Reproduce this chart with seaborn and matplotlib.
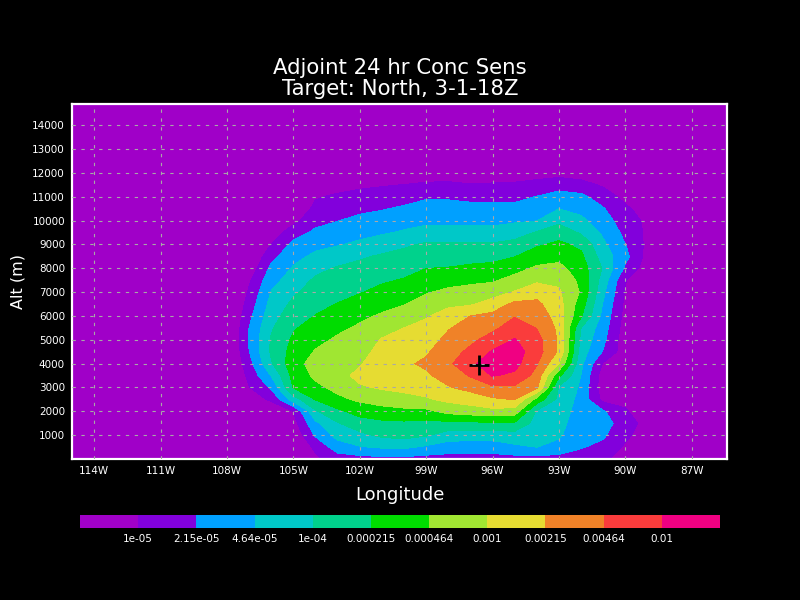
import numpy as np
import matplotlib
matplotlib.use("Agg")
import matplotlib.pyplot as plt
import seaborn as sns

# contour levels of the sensitivity and their labels
levels = [1e-05, 2.15e-05, 4.64e-05, 1e-04, 0.000215, 0.000464, 0.001, 0.00215, 0.00464, 0.01]
level_labels = ["1e-05", "2.15e-05", "4.64e-05", "1e-04", "0.000215",
                "0.000464", "0.001", "0.00215", "0.00464", "0.01"]
shade_colors = ["#a000c8", "#8200dc", "#00a0ff", "#00c8c8", "#00d28c", "#00dc00",
                "#a0e632", "#e6dc32", "#f08228", "#fa3c3c", "#f00082"]

lon_ticks = [-114, -111, -108, -105, -102, -99, -96, -93, -90, -87]
lon_labels = ["114W", "111W", "108W", "105W", "102W", "99W", "96W", "93W", "90W", "87W"]
alt_ticks = [1000, 2000, 3000, 4000, 5000, 6000, 7000, 8000, 9000, 10000, 11000, 12000, 13000, 14000]

target_lon = -96.6
target_alt = 3950

# grid of the field
lons = np.arange(-115, -84)          # 1 degree
alts = np.arange(0, 15001, 500)      # 500 m

# vertical profiles (0..13000 m every 500 m),
# in contour-interval units: 1 -> 1e-05, each unit a factor 2.15
p108w = [-1, -1, -1, -1, -1, -0.8, -0.6, -0.5, -0.4, -0.4, -0.4, -0.4, -0.4, -0.6, -0.8,
         -1, -1, -1, -1, -1, -1, -1, -1, -1, -1, -1, -1]
p107w = [-1, -0.8, -0.6, -0.3, 0.1, 0.6, 0.95, 1.28, 1.62, 1.97, 2.1, 2.0, 1.72, 1.43, 1.15,
         0.85, 0.3, -0.1, -0.5, -0.8, -1, -1, -1, -1, -1, -1, -1]
p106w = [-1, -0.8, -0.6, -0.2, 0.4, 1.13, 2.15, 3.04, 3.91, 4.14, 4.10, 3.89, 3.61, 3.33, 3.05,
         2.65, 2.23, 1.69, 1.01, 0.4, -0.2, -0.6, -1, -1, -1, -1, -1]
p105w = [-0.4, -0.1, 0.18, 0.6, 1.0, 3.52, 5.06, 5.33, 5.6, 5.38, 5.16, 4.9, 4.55, 4.21, 3.85,
         3.47, 3.10, 2.68, 2.26, 1.58, 0.70, 0.07, -0.5, -0.75, -1, -1, -1]
p104w = [0.8, 1.23, 2.13, 2.8, 3.88, 5.06, 5.75, 6.2, 6.39, 6.07, 5.73, 5.38, 5.03, 4.74, 4.44,
         4.15, 3.74, 3.22, 2.70, 2.18, 1.71, 1.28, 0.9, 0.2, -0.5, -1, -1]
p103w = [1.5, 2.51, 3.35, 3.94, 4.8, 5.77, 6.29, 6.67, 6.78, 6.46, 6.15, 5.8, 5.41, 5.03, 4.71,
         4.4, 4.09, 3.54, 2.93, 2.44, 1.97, 1.57, 1.17, 0.59, -0.1, -0.7, -1]
p102w = [1.6, 2.93, 3.76, 4.56, 5.38, 6.18, 6.89, 7.26, 6.91, 6.65, 6.4, 6.14, 5.8, 5.36, 4.94,
         4.61, 4.27, 3.88, 3.2, 2.69, 2.24, 1.79, 1.34, 0.8, 0.03, -0.6, -1]
p101w = [1.7, 3.12, 4.21, 4.78, 5.59, 6.49, 7.1, 7.35, 7.6, 7.33, 7.07, 6.62, 6.12, 5.69, 5.27,
         4.87, 4.5, 4.12, 3.52, 2.88, 2.41, 1.93, 1.44, 0.92, 0.17, -0.5, -1]
p100w = [1.7, 3.18, 4.35, 4.83, 5.73, 6.72, 7.22, 7.54, 7.85, 7.57, 7.28, 7.0, 6.47, 5.96, 5.51,
         5.07, 4.68, 4.3, 3.85, 3.12, 2.61, 2.15, 1.6, 1.02, 0.3, -0.37, -1]
p099w = [1.6, 2.84, 4.11, 4.75, 5.77, 6.89, 7.41, 7.86, 8.15, 7.89, 7.58, 7.26, 6.92, 6.41, 5.92,
         5.45, 4.99, 4.56, 4.13, 3.38, 2.76, 2.35, 1.89, 1.17, 0.41, -0.27, -1]
p098w = [1.6, 2.49, 3.53, 4.74, 6.32, 7.23, 7.93, 8.38, 8.8, 8.52, 8.24, 7.93, 7.38, 6.82, 6.22,
         5.62, 5.04, 4.58, 4.13, 3.37, 2.76, 2.34, 1.88, 1.2, 0.46, -0.23, -0.8]
p097w = [1.6, 2.47, 3.47, 4.79, 6.52, 7.46, 8.31, 9.09, 9.8, 9.25, 8.76, 8.38, 8.0, 6.89, 6.35,
         5.79, 5.19, 4.64, 4.1, 3.34, 2.74, 2.29, 1.75, 1.06, 0.29, -0.37, -0.85]
p096w = [1.6, 2.47, 3.45, 4.86, 6.72, 7.86, 8.81, 10.08, 10.5, 10.1, 9.44, 8.78, 8.25, 7.43, 6.57,
         5.88, 5.29, 4.69, 4.1, 3.33, 2.73, 2.26, 1.73, 1.12, 0.38, -0.3, -0.8]
p095w = [1.6, 2.82, 3.58, 4.86, 6.54, 8.03, 8.84, 9.8, 10.34, 10.45, 10.07, 9.52, 8.93, 8.23, 7.07,
         6.34, 5.66, 4.97, 4.3, 3.58, 2.86, 2.29, 1.72, 1.16, 0.44, -0.25, -0.75]
p094w = [1.6, 3.01, 3.29, 3.58, 3.86, 5.64, 8.19, 8.64, 9.08, 9.45, 9.36, 8.97, 8.59, 8.21, 7.62,
         6.82, 6.15, 5.51, 4.86, 4.08, 2.98, 2.5, 2.03, 1.33, 0.58, -0.13, -0.7]
p093w = [1.6, 2.67, 3.15, 3.35, 3.54, 3.73, 3.92, 5.2, 7.0, 7.85, 7.85, 7.77, 7.55, 7.34, 7.13,
         6.79, 6.26, 5.73, 5.21, 4.54, 3.77, 2.99, 2.38, 1.59, 0.64, -0.07, -0.7]
p092w = [1.6, 2.06, 2.21, 2.37, 2.52, 2.67, 2.83, 2.98, 3.23, 3.48, 3.74, 3.99, 5.11, 5.5, 5.89,
         5.75, 5.48, 5.2, 4.76, 3.88, 3.23, 2.7, 2.23, 1.38, 0.47, -0.22, -0.8]
p091w = [1.3, 1.76, 2.13, 2.4, 2.1, 0.7, 0.4, 0.45, 0.91, 1.92, 2.22, 2.45, 2.68, 2.91, 3.21,
         3.55, 3.9, 3.54, 3.19, 2.82, 2.45, 2.07, 1.51, 0.86, 0.11, -0.55, -1]
p090w = [0.3, 0.85, 1.22, 1.5, 1.09, 0.78, 0.5, 0.48, 0.45, 0.43, 0.4, 0.52, 0.64, 0.76, 0.89,
         1.05, 1.84, 2.3, 2.01, 1.73, 1.46, 1.18, 0.72, -0.01, -0.6, -1, -1]
p089w = [-0.2, 0.2, 0.45, 0.6, 0.45, 0.1, -0.3, -0.5, -0.5, -0.5, -0.5, -0.5, -0.5, -0.2, 0.1,
         0.3, 0.45, 0.65, 0.75, 0.8, 0.8, 0.55, -0.2, -0.7, -1, -1, -1]

profiles = {-108: p108w, -107: p107w, -106: p106w, -105: p105w, -104: p104w, -103: p103w,
            -102: p102w, -101: p101w, -100: p100w, -99: p099w, -98: p098w, -97: p097w,
            -96: p096w, -95: p095w, -94: p094w, -93: p093w, -92: p092w, -91: p091w,
            -90: p090w, -89: p089w}

field = np.full((len(alts), len(lons)), -1.0)
for lon, prof in profiles.items():
    field[:len(prof), lons == lon] = np.array(prof)[:, None]

sens = 1e-5 * 10 ** ((field - 1) / 3)

sns.set_style("dark")
plt.rcParams["font.family"] = ["DejaVu Sans"]

fig = plt.figure(figsize=(8, 6), dpi=100, facecolor="black")
ax = fig.add_axes([0.09, 0.235, 0.819, 0.592])
ax.set_facecolor(shade_colors[0])

bounds = np.log10([1e-9] + levels + [1.0])
ax.contourf(lons, alts, np.log10(sens), levels=bounds, colors=shade_colors)

ax.set_xlim(-115, -85.4)
ax.set_ylim(0, 14900)
ax.set_xticks(lon_ticks)
ax.set_xticklabels(lon_labels)
ax.set_yticks(alt_ticks)
ax.tick_params(colors="white", labelsize=7.5, length=3, width=1, direction="out", pad=2)
ax.grid(True, color="#a8a8a8", linestyle=(0, (3, 5)), linewidth=0.8)
ax.set_axisbelow(False)
for s in ax.spines.values():
    s.set_color("white")
    s.set_linewidth(1.6)

ax.plot(target_lon, target_alt, marker="+", color="black", markersize=14, mew=2)

ax.set_xlabel("Longitude", color="white", fontsize=13, labelpad=7)
ax.set_ylabel("Alt (m)", color="white", fontsize=11.5, labelpad=5)
fig.text(0.5, 0.887, "Adjoint 24 hr Conc Sens", color="white", fontsize=15.3, ha="center", va="center")
fig.text(0.5, 0.852, "Target: North, 3-1-18Z", color="white", fontsize=15.3, ha="center", va="center")

# colour key
cax = fig.add_axes([0.1, 0.12, 0.8, 0.0217])
cax.bar(np.arange(len(shade_colors)), 1, width=1, align="edge", color=shade_colors, linewidth=0)
cax.set_xlim(0, len(shade_colors))
cax.set_ylim(0, 1)
cax.axis("off")
for i, lab in enumerate(level_labels):
    cax.text(i + 1, -0.45, lab, color="white", fontsize=7.5, ha="center", va="top")

fig.savefig("out.png", dpi=100, facecolor="black")
